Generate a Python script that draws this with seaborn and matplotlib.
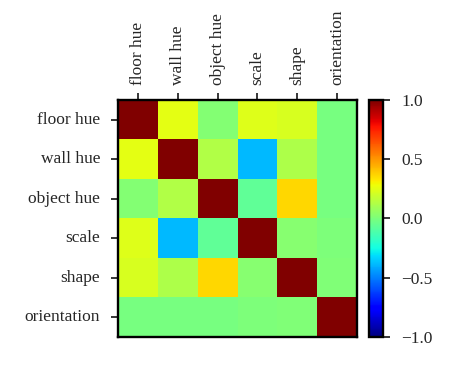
import numpy as np
import pandas as pd
import seaborn as sns
import matplotlib.pyplot as plt

# -----------------------------------------------------------------------------
# Data
# -----------------------------------------------------------------------------
factors = ['floor hue', 'wall hue', 'object hue', 'scale', 'shape', 'orientation']

corr_floor_hue = [1.00, 0.25, 0.02, 0.24, 0.22, -0.01]
corr_wall_hue = [0.25, 1.00, 0.13, -0.39, 0.12, -0.01]
corr_object_hue = [0.02, 0.13, 1.00, -0.07, 0.36, -0.01]
corr_scale = [0.24, -0.39, -0.07, 1.00, 0.03, 0.00]
corr_shape = [0.22, 0.12, 0.36, 0.03, 1.00, 0.01]
corr_orientation = [-0.01, -0.01, -0.01, 0.00, 0.01, 1.00]

cbar_ticks = [-1.0, -0.5, 0.0, 0.5, 1.0]


def main():
    corr = pd.DataFrame(
        [corr_floor_hue, corr_wall_hue, corr_object_hue,
         corr_scale, corr_shape, corr_orientation],
        index=factors, columns=factors,
    )

    sns.set_style("white")
    plt.rcParams['font.family'] = ['Liberation Serif', 'DejaVu Serif']
    plt.rcParams['font.size'] = 12.5

    fig = plt.figure(figsize=(4.49, 3.65), dpi=100)
    ax = fig.add_axes([0.263, 0.077, 0.532, 0.649])
    cax = fig.add_axes([0.822, 0.077, 0.031, 0.649])

    sns.heatmap(corr, ax=ax, cbar_ax=cax, cmap='jet', vmin=-1, vmax=1,
                cbar_kws={'ticks': cbar_ticks})

    # labels on top, rotated
    ax.xaxis.tick_top()
    ax.set_xticklabels(factors, rotation=90, fontsize=12.5)
    ax.set_yticklabels(factors, rotation=0, fontsize=12.5)
    ax.tick_params(axis='both', length=5, width=1.1, direction='out',
                   top=True, left=True, bottom=False, right=False, color='black')
    ax.tick_params(axis='y', pad=8)
    ax.tick_params(axis='x', pad=6)
    for spine in ax.spines.values():
        spine.set_visible(True)
        spine.set_linewidth(1.7)
        spine.set_color('black')

    cax.tick_params(labelsize=12.5, length=5, width=1.1, pad=8, color='black')
    cax.set_yticklabels([f"{t:.1f}".replace('-', '\u2212') for t in cbar_ticks])
    cbar = ax.collections[0].colorbar
    cbar.outline.set_visible(True)
    cbar.outline.set_linewidth(1.7)
    cbar.outline.set_edgecolor('black')

    fig.savefig('out.png', dpi=100)


if __name__ == "__main__":
    main()
